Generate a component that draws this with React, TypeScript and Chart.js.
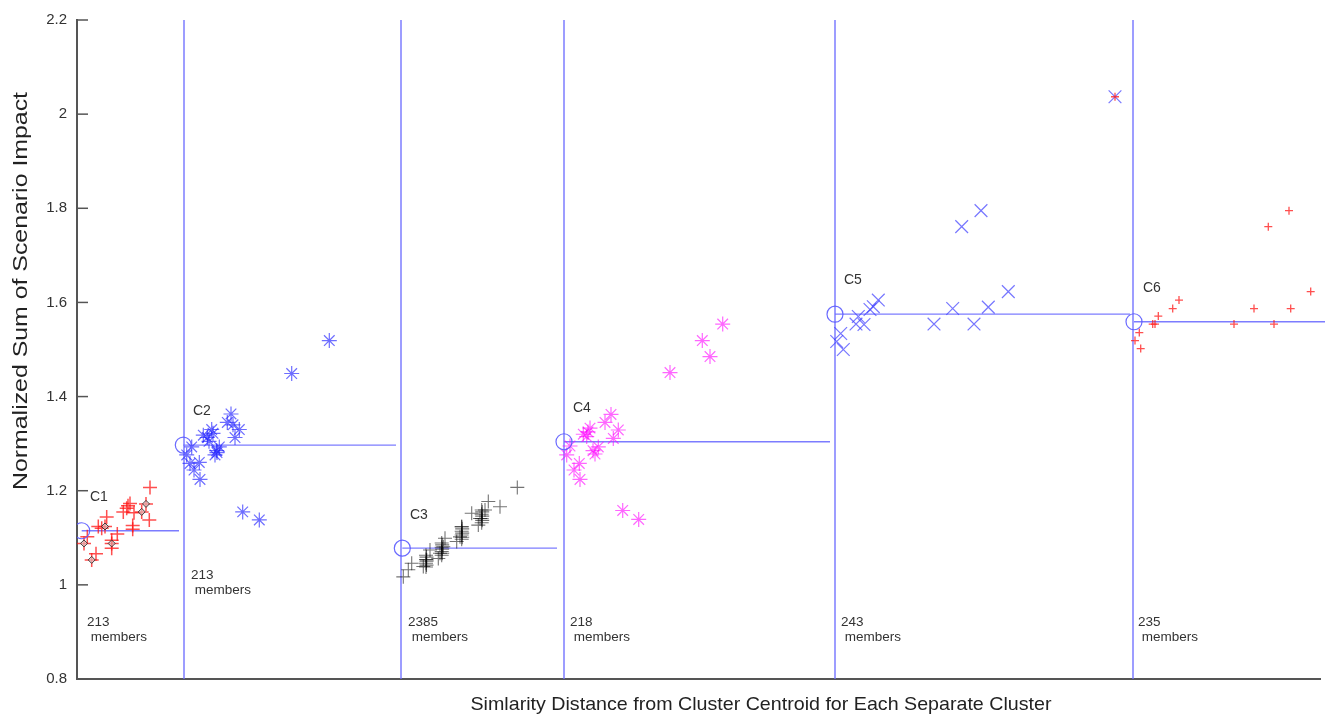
import React, { useEffect, useRef } from 'react';
import { Chart, registerables } from 'chart.js';

Chart.register(...registerables);

// ---------- data ----------
const yTicks = [0.8, 1, 1.2, 1.4, 1.6, 1.8, 2, 2.2];
const X_MIN = 0;
const X_MAX = 124.3;

const clusterNames = ['C1', 'C2', 'C3', 'C4', 'C5', 'C6'];
const memberCounts = ['213', '213', '2385', '218', '243', '235'];

const boundaryX = [10.7, 32.4, 48.7, 75.8, 105.6];

const centroidX = [0.47, 10.63, 32.53, 48.7, 75.8, 105.7];
const centroidY = [1.115, 1.297, 1.078, 1.304, 1.575, 1.559];
const centroidLineEnd = [10.2, 31.9, 48.0, 75.3, 105.3, 124.8];

const labelX = [1.3, 11.6, 33.3, 49.6, 76.7, 106.6];
const labelY = [1.186, 1.369, 1.148, 1.375, 1.648, 1.63];
const memberX = [1.0, 11.4, 33.1, 49.3, 76.4, 106.1];
const memberY = [0.921, 1.021, 0.921, 0.921, 0.921, 0.921];

const c1X = [7.3, 6.9, 6.47, 7.23, 5.3, 4.97, 4.63, 5.7, 5.57, 2.97, 2.8, 2.47, 4.03, 3.47, 3.47, 1.9, 1.47, 0.7, 1.03, 2.13, 3.47, 5.57, 5.1];
const c1Y = [1.207, 1.172, 1.155, 1.138, 1.173, 1.163, 1.155, 1.153, 1.126, 1.144, 1.124, 1.12, 1.108, 1.088, 1.078, 1.066, 1.053, 1.088, 1.102, 1.124, 1.095, 1.118, 1.168];
const c1dX = [6.9, 6.47, 2.8, 3.47, 1.47, 0.7];
const c1dY = [1.172, 1.155, 1.124, 1.088, 1.053, 1.088];

const c2X = [25.23, 21.47, 15.4, 15.03, 16.23, 15.8, 13.47, 13.03, 14.23, 13.8, 11.47, 10.97, 12.23, 11.7, 12.3, 11.3, 16.57, 18.23, 12.63, 13.97, 15.6, 13.2, 13.6, 14.0];
const c2Y = [1.519, 1.449, 1.363, 1.345, 1.33, 1.313, 1.33, 1.313, 1.293, 1.276, 1.293, 1.276, 1.26, 1.244, 1.224, 1.258, 1.155, 1.138, 1.318, 1.285, 1.34, 1.305, 1.322, 1.281];

const c3X = [44.03, 42.3, 41.13, 40.8, 40.3, 40.13, 39.47, 38.47, 38.3, 37.97, 36.8, 36.63, 36.3, 36.13, 35.3, 34.97, 34.63, 33.47, 33.13, 32.63,
  34.9, 34.9, 34.9, 34.9, 34.95, 34.95, 34.95,
  36.47, 36.47, 36.47, 36.47, 36.52, 36.52, 36.52,
  38.47, 38.47, 38.47, 38.47, 38.52, 38.52, 38.52,
  40.47, 40.47, 40.47, 40.47, 40.52, 40.52, 40.52];
const c3Y = [1.207, 1.166, 1.177, 1.159, 1.141, 1.127, 1.152, 1.124, 1.102, 1.092, 1.099, 1.081, 1.067, 1.056, 1.074, 1.053, 1.039, 1.046, 1.032, 1.017,
  1.063, 1.054, 1.046, 1.038, 1.059, 1.05, 1.042,
  1.089, 1.08, 1.071, 1.063, 1.085, 1.076, 1.067,
  1.123, 1.114, 1.106, 1.097, 1.119, 1.11, 1.101,
  1.159, 1.15, 1.141, 1.132, 1.155, 1.146, 1.137];

const c4X = [64.57, 62.53, 63.3, 59.3, 53.4, 52.8, 54.13, 53.63, 51.3, 50.97, 52.13, 51.8, 49.3, 48.97, 50.23, 49.7, 50.3, 54.57, 56.17, 50.63, 51.6, 51.1];
const c4Y = [1.554, 1.519, 1.485, 1.451, 1.362, 1.345, 1.329, 1.311, 1.333, 1.315, 1.293, 1.278, 1.295, 1.276, 1.258, 1.244, 1.224, 1.158, 1.139, 1.32, 1.285, 1.325];

const c5X = [90.4, 88.47, 93.13, 91.13, 89.7, 87.57, 85.7, 80.13, 79.63, 78.13, 77.9, 78.7, 76.37, 75.97, 76.63, 103.8, 79.3];
const c5Y = [1.795, 1.761, 1.623, 1.59, 1.554, 1.587, 1.554, 1.605, 1.591, 1.57, 1.554, 1.553, 1.534, 1.517, 1.5, 2.037, 1.585];

const c6X = [121.2, 119.13, 123.37, 121.37, 119.7, 117.7, 115.7, 110.2, 109.57, 108.13, 107.8, 107.57, 106.23, 105.8, 106.37, 103.8];
const c6Y = [1.795, 1.761, 1.623, 1.587, 1.554, 1.587, 1.554, 1.605, 1.587, 1.571, 1.554, 1.554, 1.536, 1.519, 1.502, 2.037];

const xTitle = 'Simlarity Distance from Cluster Centroid for Each Separate Cluster';
const yTitle = 'Normalized Sum of Scenario Impact';

// ---------- helpers ----------
const pts = (xs: number[], ys: number[]) => xs.map((x, i) => ({ x, y: ys[i] }));
const FONT = '"Liberation Sans", Arial, Helvetica, sans-serif';
const LINE_BLUE = 'rgba(110,110,255,0.9)';

const overlayPlugin = {
  id: 'overlay',
  afterDraw(chart: any) {
    const { ctx, chartArea, scales } = chart;
    const xs = scales.x;
    const ys = scales.y;
    ctx.save();
    // inward y ticks
    ctx.strokeStyle = '#555';
    ctx.lineWidth = 1.5;
    yTicks.forEach((v) => {
      const py = ys.getPixelForValue(v);
      ctx.beginPath();
      ctx.moveTo(chartArea.left, py);
      ctx.lineTo(chartArea.left + 11, py);
      ctx.stroke();
    });
    // cluster names
    ctx.fillStyle = '#333';
    ctx.font = `14px ${FONT}`;
    ctx.textBaseline = 'middle';
    ctx.textAlign = 'left';
    clusterNames.forEach((n, i) => {
      ctx.fillText(n, xs.getPixelForValue(labelX[i]), ys.getPixelForValue(labelY[i]));
    });
    // member counts
    ctx.font = `13.5px ${FONT}`;
    memberCounts.forEach((m, i) => {
      const px = xs.getPixelForValue(memberX[i]);
      const py = ys.getPixelForValue(memberY[i]);
      ctx.fillText(m, px, py);
      ctx.fillText(' members', px, py + 15.5);
    });
    // x title
    ctx.fillStyle = '#222';
    ctx.font = `19px ${FONT}`;
    ctx.textAlign = 'center';
    const wx = ctx.measureText(xTitle).width;
    ctx.save();
    ctx.translate(761, 705);
    ctx.scale(581 / wx, 1);
    ctx.fillText(xTitle, 0, 0);
    ctx.restore();
    // y title
    ctx.font = `20px ${FONT}`;
    const wy = ctx.measureText(yTitle).width;
    ctx.save();
    ctx.translate(21, 291);
    ctx.rotate(-Math.PI / 2);
    ctx.scale(398 / wy, 1);
    ctx.fillText(yTitle, 0, 0);
    ctx.restore();
    ctx.restore();
  },
};

export default function App() {
  const canvasRef = useRef<HTMLCanvasElement | null>(null);

  useEffect(() => {
    if (!canvasRef.current) return;
    const lineDs = (data: { x: number; y: number }[], width: number) => ({
      data,
      showLine: true,
      pointRadius: 0,
      borderColor: LINE_BLUE,
      borderWidth: width,
      fill: false,
      clip: false,
    });

    const datasets: any[] = [];
    boundaryX.forEach((bx) => {
      datasets.push(lineDs([{ x: bx, y: 0.8 }, { x: bx, y: 2.2 }], 1.5));
    });
    centroidX.forEach((cx, i) => {
      datasets.push(lineDs([{ x: cx, y: centroidY[i] }, { x: centroidLineEnd[i], y: centroidY[i] }], 1.3));
    });
    datasets.push({
      data: pts(c1X, c1Y), pointStyle: 'cross', pointRadius: 7, borderColor: 'rgba(255,20,20,0.75)', borderWidth: 1.5,
    });
    datasets.push({
      data: pts(c1dX, c1dY), pointStyle: 'rectRot', pointRadius: 3.5, borderColor: 'rgba(40,40,40,0.85)', backgroundColor: 'rgba(220,200,200,0.6)', borderWidth: 1,
    });
    datasets.push({
      data: pts(c2X, c2Y), pointStyle: 'star', pointRadius: 7.5, borderColor: 'rgba(30,30,255,0.65)', borderWidth: 1.2,
    });
    datasets.push({
      data: pts(c3X, c3Y), pointStyle: 'cross', pointRadius: 7, borderColor: 'rgba(0,0,0,0.55)', borderWidth: 1.1,
    });
    datasets.push({
      data: pts(c4X, c4Y), pointStyle: 'star', pointRadius: 7.5, borderColor: 'rgba(255,0,255,0.6)', borderWidth: 1.2,
    });
    datasets.push({
      data: pts(c5X, c5Y), pointStyle: 'crossRot', pointRadius: 9, borderColor: 'rgba(60,60,255,0.7)', borderWidth: 1.2,
    });
    datasets.push({
      data: pts(c6X, c6Y), pointStyle: 'cross', pointRadius: 4, borderColor: 'rgba(255,20,20,0.75)', borderWidth: 1.3,
    });
    datasets.push({
      data: pts(centroidX, centroidY), pointStyle: 'circle', pointRadius: 8, borderColor: 'rgba(90,90,255,0.9)', backgroundColor: 'rgba(0,0,0,0)', borderWidth: 1.2,
    });
    datasets.forEach((d, i) => { d.order = datasets.length - i; });

    const chart = new Chart(canvasRef.current, {
      type: 'scatter',
      data: { datasets },
      options: {
        animation: false,
        responsive: false,
        events: [],
        layout: { autoPadding: false, padding: { top: 20, right: 6, left: 0, bottom: 0 } },
        plugins: { legend: { display: false }, tooltip: { enabled: false } },
        scales: {
          x: {
            type: 'linear',
            min: X_MIN,
            max: X_MAX,
            ticks: { display: false },
            grid: { display: false, drawTicks: false },
            border: { display: true, color: '#555', width: 2 },
            title: { display: false },
            afterFit: (s: any) => { s.height = 36; },
          },
          y: {
            type: 'linear',
            min: 0.8,
            max: 2.2,
            ticks: {
              stepSize: 0.2,
              padding: 10,
              color: '#333',
              font: { size: 15, family: FONT },
              callback: (v: any) => String(Number(Number(v).toFixed(1))),
            },
            grid: { display: false, drawTicks: false },
            border: { display: true, color: '#555', width: 2 },
            title: { display: false },
            afterFit: (s: any) => { s.width = 77; },
          },
        },
      } as any,
      plugins: [overlayPlugin],
    });
    return () => chart.destroy();
  }, []);

  return (
    <div style={{ position: 'absolute', left: 0, top: 0, width: 1326, height: 715, background: '#fff' }}>
      <canvas ref={canvasRef} width={1326} height={715} style={{ display: 'block' }} />
    </div>
  );
}
